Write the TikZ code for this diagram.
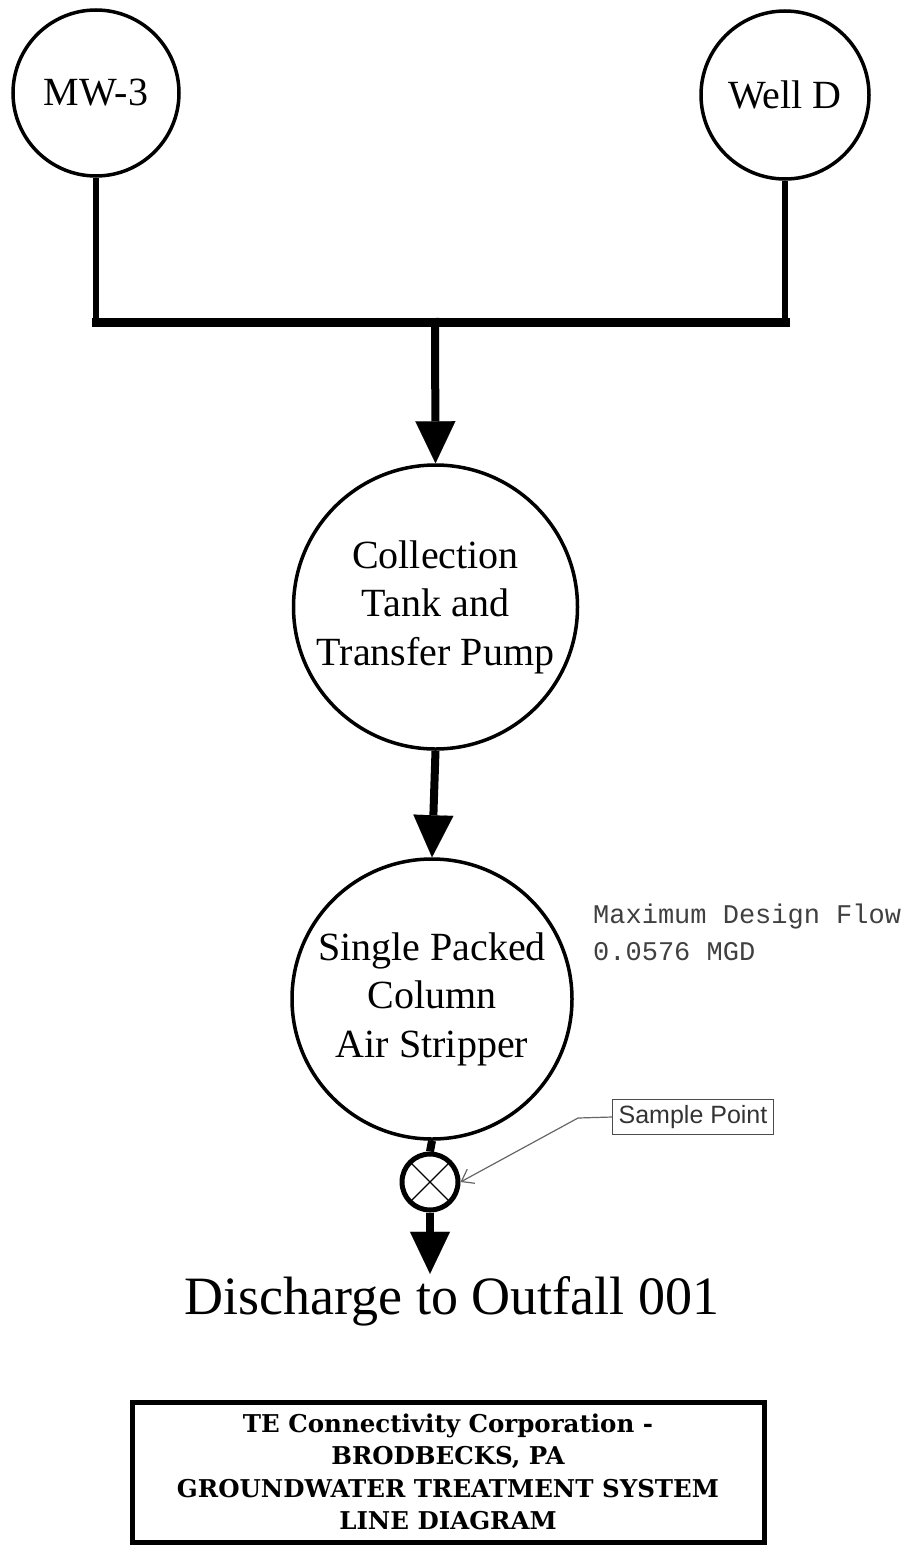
\documentclass[tikz,border=0pt]{standalone}
\usepackage{fontspec}
\setmainfont{Liberation Serif}
\newfontfamily\flowmono{Liberation Mono}
\newfontfamily\labelsans{Liberation Sans}
\newfontfamily\titleserif{DejaVu Serif}
\usetikzlibrary{arrows.meta}
\begin{document}
\begin{tikzpicture}[x=1pt,y=-1pt,
  unit/.style={draw, circle, line width=3.5pt, inner sep=0pt, align=center,
    font=\fontsize{40}{48.5}\selectfont},
  pipev/.style={line width=6pt},
  pipeh/.style={line width=9pt},
  flow/.style={line width=8pt, -{Triangle[length=42pt,width=40pt,line width=0.1pt]}},
  leader/.style={draw=black!60, line width=1.2pt, -{Straight Barb[length=11pt,width=16pt,line width=1.2pt]}},
]
\useasboundingbox (0,0) rectangle (907,1547);

% wells
\node[unit, minimum size=166pt] (mw3) at (96,93) {MW-3};
\node[unit, minimum size=168pt] (welld) at (785,95) {Well D};

\coordinate (jl) at (96,322);
\coordinate (jr) at (785,322);
\coordinate (jc) at (435,318);

\draw[pipev] (mw3.south) -- (jl);
\draw[pipev] (welld.south) -- (jr);
\draw[pipeh, line cap=rect] (jl) -- (jr);

% collection tank
\node[unit, minimum size=284pt] (coll) at (435.5,607) {Collection\\Tank and\\Transfer Pump};
\draw[flow] (jc) -- (coll.north);

% air stripper
\node[unit, minimum size=280pt] (strip) at (432,999) {Single Packed\\Column\\Air Stripper};
\draw[flow] (coll.south) -- (strip.north);

% design flow note
\node[anchor=base west, inner sep=0pt, text=black!75, font=\flowmono\fontsize{27}{37}\selectfont, align=left] (note) at (593,960) {Maximum Design Flow\\0.0576 MGD};

% sample point
\node[draw, circle, line width=5pt, minimum size=56pt, inner sep=0pt] (sp) at (430,1182) {};
\draw[line width=1.2pt, shorten <=2pt, shorten >=2pt] (sp.45) -- (sp.225);
\draw[line width=1.2pt, shorten <=2pt, shorten >=2pt] (sp.135) -- (sp.315);
\draw[line width=8pt] (strip.south) -- (sp.north);

\node[draw=black!70, line width=1.2pt, inner xsep=6pt, inner ysep=5.5pt, text=black!80,
  font=\labelsans\fontsize{25}{25}\selectfont] (spl) at (693,1117) {Sample Point};
\coordinate (bend) at (578,1118);
\draw[leader] (spl.west) -- (bend) -- (sp.east);

% discharge
\node[anchor=base, inner sep=0pt, font=\fontsize{54}{60}\selectfont] (disc) at (452,1314) {Discharge to Outfall 001};
\draw[flow] (sp.south) -- ([yshift=2pt]sp.south |- disc.north);

% title block
\node[draw, line width=5pt, minimum width=632pt, minimum height=140pt, inner sep=0pt] (tb) at (448,1472) {};
\node[align=center, inner sep=0pt, font=\titleserif\bfseries\fontsize{24.5}{32.5}\selectfont] (tt) at (448,1472)
  {TE Connectivity Corporation -\\BRODBECKS, PA\\GROUNDWATER TREATMENT SYSTEM\\LINE DIAGRAM};
\end{tikzpicture}
\end{document}
